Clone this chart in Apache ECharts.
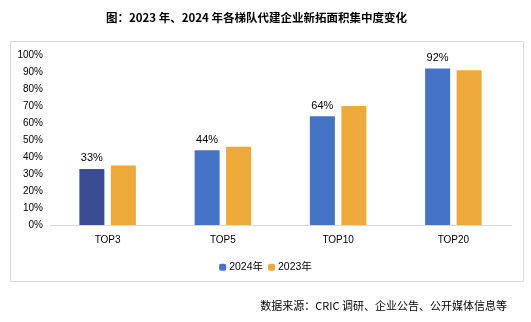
<!DOCTYPE html>
<html><head><meta charset="utf-8">
<script src="https://cdn.jsdelivr.net/npm/echarts@6/dist/echarts.min.js"></script>
<style>html,body{margin:0;padding:0;background:#fff}#c{width:531px;height:322px}</style>
</head><body><div id="c"></div>
<script>
const categories = ['TOP3', 'TOP5', 'TOP10', 'TOP20'];
const values2024 = [33, 44, 64, 92];
const values2023 = [35, 46, 70, 91];
const yTicks = [0, 10, 20, 30, 40, 50, 60, 70, 80, 90, 100];
const titleText = '图：2023 年、2024 年各梯队代建企业新拓面积集中度变化';
const sourceText = '数据来源：CRIC 调研、企业公告、公开媒体信息等';

const chart = echarts.init(document.getElementById('c'), null, {renderer: 'canvas'});
const font = '"Liberation Sans", "Noto Sans CJK SC", sans-serif';
chart.setOption({
  animation: false,
  title: {
    text: titleText, left: 101, top: 7,
    textStyle: {fontSize: 11.5, fontWeight: 'bold', color: '#000', fontFamily: '"Noto Sans CJK SC", sans-serif'}
  },
  graphic: [
    {type: 'rect', shape: {x: 10.5, y: 41.5, width: 513, height: 240}, style: {fill: 'none', stroke: '#d9d9d9', lineWidth: 1}, z: -1},
    {type: 'text', right: 24, top: 300, style: {text: sourceText, fill: '#000', font: '11px "Noto Sans CJK SC", sans-serif'}}
  ],
  legend: {
    data: ['2024年', '2023年'], top: 257, left: 'center',
    itemWidth: 7, itemHeight: 7, itemGap: 5,
    textStyle: {fontSize: 10.5, color: '#000', fontFamily: font, padding: [0, 0, 0, -2]}
  },
  grid: {left: 50, right: 20, top: 55, bottom: 97, containLabel: false},
  xAxis: {
    type: 'category', data: categories,
    axisLine: {lineStyle: {color: '#d9d9d9'}}, axisTick: {show: false},
    axisLabel: {color: '#000', fontSize: 10, fontFamily: font, margin: 10}
  },
  yAxis: {
    type: 'value', min: 0, max: 100, interval: 10,
    axisLine: {show: false}, axisTick: {show: false}, splitLine: {show: false},
    axisLabel: {color: '#000', fontSize: 10, fontFamily: font, margin: 7,
      formatter: v => yTicks.includes(v) ? v + '%' : ''}
  },
  series: [
    {
      name: '2024年', type: 'bar', barWidth: 25, barGap: '26%',
      itemStyle: {color: '#4472C4'},
      data: values2024.map((v, i) => i === 0 ? {value: v, itemStyle: {color: '#3B4C91'}} : v),
      label: {show: true, position: 'top', distance: 5, formatter: '{c}%', color: '#000', fontSize: 11, fontFamily: font}
    },
    {
      name: '2023年', type: 'bar', barWidth: 25,
      itemStyle: {color: '#EDA93A'},
      data: values2023
    }
  ]
});
</script></body></html>
